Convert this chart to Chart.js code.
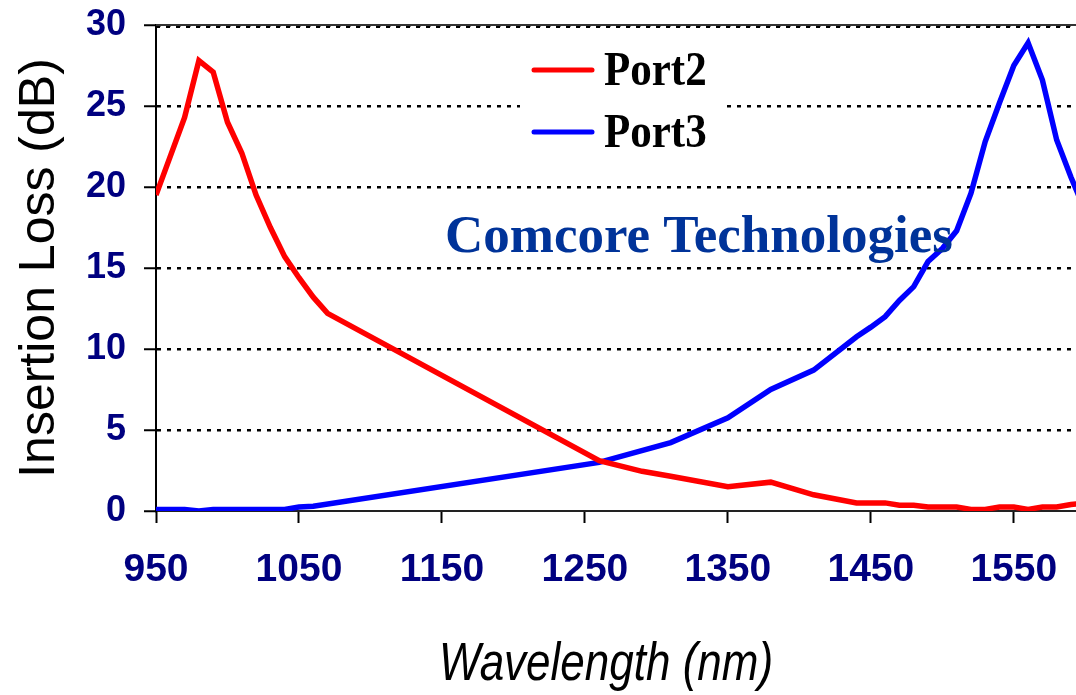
<!DOCTYPE html>
<html>
<head>
<meta charset="utf-8">
<script src="https://cdn.jsdelivr.net/npm/chart.js@4.4.1/dist/chart.umd.min.js"></script>
<style>
  html, body { margin: 0; padding: 0; background: #ffffff; }
  #wrap { width: 1076px; height: 695px; position: relative; }
</style>
</head>
<body>
<div id="wrap"><canvas id="c" width="1076" height="695"></canvas></div>
<script>
// ---- data ----
const xTickValues = [950, 1050, 1150, 1250, 1350, 1450, 1550];
const yTickValues = [0, 5, 10, 15, 20, 25, 30];

const port2Wavelength = [950, 970, 980, 990, 1000, 1010, 1020, 1030, 1040, 1050, 1060, 1070, 1260, 1290, 1310, 1350, 1380, 1410, 1440, 1460, 1470, 1480, 1490, 1510, 1520, 1530, 1540, 1550, 1560, 1570, 1580, 1590, 1600];
const port2Loss       = [19.5, 24.3, 27.8, 27.1, 24.0, 22.1, 19.5, 17.5, 15.7, 14.4, 13.2, 12.2, 3.1, 2.45, 2.15, 1.5, 1.78, 1.0, 0.5, 0.5, 0.36, 0.36, 0.25, 0.25, 0.1, 0.1, 0.25, 0.25, 0.1, 0.25, 0.25, 0.4, 0.5];

const port3Wavelength = [950, 970, 980, 990, 1040, 1050, 1060, 1260, 1310, 1350, 1380, 1410, 1440, 1450, 1460, 1470, 1480, 1490, 1500, 1510, 1520, 1530, 1540, 1550, 1560, 1570, 1580, 1590, 1600];
const port3Loss       = [0.1, 0.1, 0.0, 0.1, 0.1, 0.25, 0.3, 3.0, 4.22, 5.75, 7.5, 8.7, 10.75, 11.35, 12.0, 13.0, 13.85, 15.4, 16.2, 17.3, 19.6, 22.8, 25.2, 27.5, 28.9, 26.6, 22.9, 20.6, 18.5];

const seriesNames = ['Port2', 'Port3'];
const xTitle = 'Wavelength (nm)';
const yTitle = 'Insertion Loss (dB)';
const watermark = 'Comcore Technologies';

function toPoints(xs, ys) { return xs.map((x, i) => ({ x: x, y: ys[i] })); }

const NAVY = '#000080';

const decorPlugin = {
  id: 'decor',
  afterDatasetsDraw(chart) {
    const ctx = chart.ctx;
    const a = chart.chartArea;
    ctx.save();
    // top frame line (solid) + dotted line just below
    ctx.strokeStyle = '#333333';
    ctx.lineWidth = 2;
    ctx.beginPath();
    ctx.moveTo(a.left, a.top);
    ctx.lineTo(a.right, a.top);
    ctx.stroke();
    ctx.strokeStyle = '#000000';
    ctx.setLineDash([4, 6]);
    ctx.beginPath();
    ctx.moveTo(a.left, a.top + 2);
    ctx.lineTo(a.right, a.top + 2);
    ctx.stroke();
    ctx.setLineDash([]);

    // watermark
    ctx.fillStyle = '#003399';
    ctx.font = 'bold 53px "Liberation Serif", "Times New Roman", serif';
    ctx.textBaseline = 'alphabetic';
    ctx.textAlign = 'left';
    ctx.fillText(watermark, 445, 252);

    // legend box
    ctx.fillStyle = '#ffffff';
    ctx.fillRect(520, 40, 205, 120);
    const rows = [70, 132];
    chart.data.datasets.forEach((ds, i) => {
      const y = rows[i];
      ctx.strokeStyle = ds.borderColor;
      ctx.lineWidth = 5;
      ctx.lineCap = 'round';
      ctx.beginPath();
      ctx.moveTo(534, y);
      ctx.lineTo(592, y);
      ctx.stroke();
      ctx.save();
      ctx.translate(604, y);
      ctx.scale(1, 1.15);
      ctx.fillStyle = '#000000';
      ctx.font = 'bold 43px "Liberation Serif", "Times New Roman", serif';
      ctx.textBaseline = 'middle';
      ctx.fillText(ds.label, 0, 2);
      ctx.restore();
    });

    // x axis title (condensed italic)
    ctx.save();
    ctx.translate(606, 665);
    ctx.scale(0.83, 1);
    ctx.fillStyle = '#000000';
    ctx.font = 'italic 53px "Liberation Sans", Arial, sans-serif';
    ctx.textAlign = 'center';
    ctx.textBaseline = 'middle';
    ctx.fillText(xTitle, 0, 0);
    ctx.restore();

    ctx.restore();
  }
};

new Chart(document.getElementById('c'), {
  type: 'line',
  data: {
    datasets: [
      { label: seriesNames[0], data: toPoints(port2Wavelength, port2Loss), borderColor: '#ff0000', backgroundColor: '#ff0000', borderWidth: 5.5, pointRadius: 0, tension: 0, fill: false },
      { label: seriesNames[1], data: toPoints(port3Wavelength, port3Loss), borderColor: '#0000ff', backgroundColor: '#0000ff', borderWidth: 5.5, pointRadius: 0, tension: 0, fill: false }
    ]
  },
  options: {
    responsive: false,
    animation: false,
    devicePixelRatio: 1,
    layout: { padding: { top: 25, right: 0, left: 0, bottom: 0 } },
    plugins: { legend: { display: false }, tooltip: { enabled: false } },
    scales: {
      x: {
        type: 'linear',
        min: 950,
        max: 1593.5,
        afterBuildTicks(scale) { scale.ticks = xTickValues.map(v => ({ value: v })); },
        afterFit(scale) { scale.height = 184; scale.paddingLeft = 0; scale.paddingRight = 0; },
        ticks: {
          autoSkip: false,
          maxRotation: 0,
          color: NAVY,
          padding: 24,
          font: { family: '"Liberation Sans", Arial, sans-serif', size: 39, weight: 'bold', lineHeight: 1.2 },
          callback: v => String(v)
        },
        grid: { drawOnChartArea: false, drawTicks: true, tickLength: 12, tickColor: '#000000', tickWidth: 2 },
        border: { display: true, color: '#222222', width: 2 },
        title: { display: false, text: xTitle }
      },
      y: {
        type: 'linear',
        min: 0,
        max: 30,
        afterBuildTicks(scale) { scale.ticks = yTickValues.map(v => ({ value: v })); },
        afterFit(scale) { scale.width = 156; scale.paddingTop = 0; scale.paddingBottom = 0; },
        ticks: {
          color: NAVY,
          padding: 18,
          font: { family: '"Liberation Sans", Arial, sans-serif', size: 36, weight: 'bold', lineHeight: 1.2 },
          callback: v => String(v)
        },
        grid: {
          drawOnChartArea: true,
          color: ctx => (ctx.tick && ctx.tick.value === 0) ? 'rgba(0,0,0,0)' : '#000000',
          lineWidth: 2.5,
          tickLength: 12,
          tickColor: '#000000',
          tickWidth: 2,
          tickBorderDash: []
        },
        border: { display: true, color: '#000000', width: 2, dash: [4, 6] },
        title: {
          display: true,
          text: yTitle,
          color: '#000000',
          padding: { top: 10, bottom: 0 },
          font: { family: '"Liberation Sans", Arial, sans-serif', size: 50, weight: 'normal', lineHeight: 1.2 }
        }
      }
    }
  },
  plugins: [decorPlugin]
});
</script>
</body>
</html>
